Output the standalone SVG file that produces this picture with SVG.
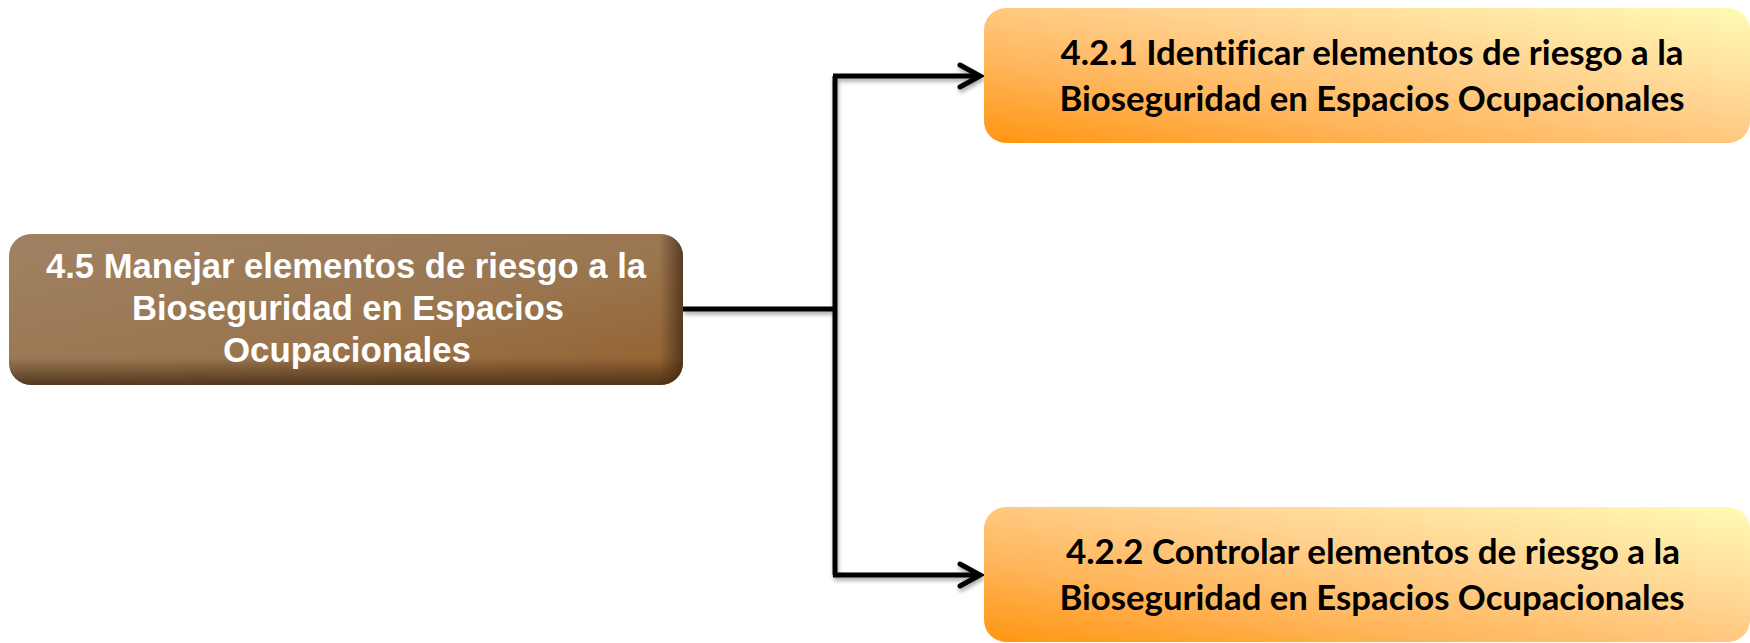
<svg xmlns="http://www.w3.org/2000/svg" width="1750" height="643" viewBox="0 0 1750 643">
  <defs>
    <linearGradient id="brown" x1="0" y1="0" x2="1" y2="1">
      <stop offset="0" stop-color="#a08263"/>
      <stop offset="0.55" stop-color="#9a7650"/>
      <stop offset="1" stop-color="#93602c"/>
    </linearGradient>
    <linearGradient id="bevelB" x1="0" y1="0" x2="0" y2="1">
      <stop offset="0.82" stop-color="#3a2410" stop-opacity="0"/>
      <stop offset="1" stop-color="#3a2410" stop-opacity="0.75"/>
    </linearGradient>
    <linearGradient id="bevelR" x1="0" y1="0" x2="1" y2="0">
      <stop offset="0.965" stop-color="#3a2410" stop-opacity="0"/>
      <stop offset="1" stop-color="#3a2410" stop-opacity="0.7"/>
    </linearGradient>
    <linearGradient id="orange" x1="0" y1="1" x2="1" y2="0">
      <stop offset="0" stop-color="#ff9510"/>
      <stop offset="0.3" stop-color="#ffb55a"/>
      <stop offset="0.6" stop-color="#ffd28f"/>
      <stop offset="1" stop-color="#fffbb5"/>
    </linearGradient>
    <filter id="shadow" x="-5%" y="-5%" width="110%" height="120%">
      <feGaussianBlur in="SourceAlpha" stdDeviation="2"/>
      <feOffset dx="1" dy="3" result="b"/>
      <feComponentTransfer><feFuncA type="linear" slope="0.35"/></feComponentTransfer>
      <feMerge><feMergeNode/><feMergeNode in="SourceGraphic"/></feMerge>
    </filter>
    <marker id="arrow" markerUnits="userSpaceOnUse" markerWidth="30" markerHeight="30" refX="24" refY="14" orient="auto" viewBox="0 0 30 28">
      <path d="M4,3 L24,14 L4,25" fill="none" stroke="#000" stroke-width="5" stroke-linecap="round" stroke-linejoin="miter"/>
    </marker>
  </defs>
  <style>
    .lt { font-family: "Liberation Sans", Arial, sans-serif; font-weight: bold; font-size: 35px; fill: #ffffff; text-anchor: middle; }
    .rt { font-family: Lato, "Open Sans", sans-serif; font-weight: bold; font-size: 34px; fill: #000000; text-anchor: middle; font-variant-ligatures: none; }
    .conn { fill: none; stroke: #000; stroke-width: 5; stroke-linejoin: miter; }
  </style>
  <rect width="1750" height="643" fill="#ffffff"/>

  <g id="connectors" filter="url(#shadow)">
    <path class="conn" d="M683,309 H835"/>
    <path class="conn" d="M835,76 V575"/>
    <path class="conn" d="M833,76 H980" marker-end="url(#arrow)"/>
    <path class="conn" d="M833,575 H980" marker-end="url(#arrow)"/>
  </g>

  <g id="node-main">
    <rect x="9" y="234" width="674" height="151" rx="22" fill="url(#brown)"/>
    <rect x="9" y="234" width="674" height="151" rx="22" fill="url(#bevelB)"/>
    <rect x="9" y="234" width="674" height="151" rx="22" fill="url(#bevelR)"/>
    <text class="lt" x="346" y="278" textLength="600" lengthAdjust="spacingAndGlyphs">4.5 Manejar elementos de riesgo a la</text>
    <text class="lt" x="348" y="320" textLength="432" lengthAdjust="spacingAndGlyphs">Bioseguridad en Espacios</text>
    <text class="lt" x="347" y="362" textLength="248" lengthAdjust="spacingAndGlyphs">Ocupacionales</text>
  </g>

  <g id="node-421">
    <rect x="984" y="8" width="766" height="135" rx="22" fill="url(#orange)"/>
    <text class="rt" x="1372" y="65" textLength="623" lengthAdjust="spacingAndGlyphs">4.2.1 Identificar elementos de riesgo a la</text>
    <text class="rt" x="1372" y="111" textLength="625" lengthAdjust="spacingAndGlyphs">Bioseguridad en Espacios Ocupacionales</text>
  </g>

  <g id="node-422">
    <rect x="984" y="507" width="766" height="135" rx="22" fill="url(#orange)"/>
    <text class="rt" x="1373" y="564" textLength="614" lengthAdjust="spacingAndGlyphs">4.2.2 Controlar elementos de riesgo a la</text>
    <text class="rt" x="1372" y="610" textLength="625" lengthAdjust="spacingAndGlyphs">Bioseguridad en Espacios Ocupacionales</text>
  </g>
</svg>
